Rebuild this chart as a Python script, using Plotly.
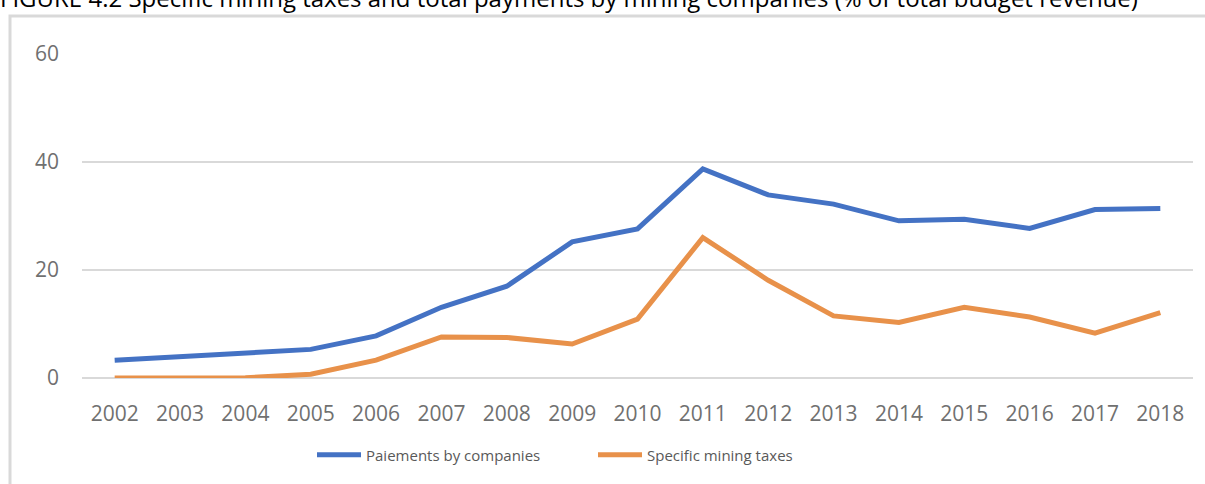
import plotly.graph_objects as go

# Years and the two series (% of total budget revenue)
years = [str(y) for y in range(2002, 2019)]
payments_by_companies = [3.3, 3.9, 4.7, 5.3, 7.8, 13.1, 17.0, 25.2, 27.6, 38.7,
                         33.9, 32.2, 29.1, 29.4, 27.7, 31.2, 31.4]
specific_mining_taxes = [0.0, 0.0, 0.05, 0.7, 3.3, 7.6, 7.5, 6.3, 10.9, 26.0,
                         18.1, 11.5, 10.3, 13.1, 11.3, 8.3, 12.1]
y_ticks = [0, 20, 40, 60]

title_text = ("FIGURE 4.2 Specific mining taxes and total payments by mining companies "
              "(% of total budget revenue)")

W, H = 1205, 484
L, R, T, B = 82, 12, 54, 106
pw, ph = W - L - R, H - T - B


def px_x(px):
    return (px - L) / pw


def px_y(py):
    return (H - B - py) / ph


fig = go.Figure()
fig.add_trace(go.Scatter(
    x=years, y=payments_by_companies, mode="lines",
    name="Paiements by companies",
    line=dict(color="#4472C4", width=5),
))
fig.add_trace(go.Scatter(
    x=years, y=specific_mining_taxes, mode="lines",
    name="Specific mining taxes",
    line=dict(color="#E8914A", width=5),
))

tick_font = dict(family="Open Sans, Noto Sans, sans-serif", size=21, color="#707070")

fig.update_layout(
    width=W, height=H,
    margin=dict(l=L, r=R, t=T, b=B),
    paper_bgcolor="white", plot_bgcolor="white",
    showlegend=True,
    legend=dict(
        orientation="h",
        x=px_x(312), xanchor="left",
        y=px_y(455), yanchor="middle",
        font=dict(family="Open Sans, Noto Sans, sans-serif", size=15, color="#595959"),
        itemwidth=44,
        entrywidth=222, entrywidthmode="pixels",
        bgcolor="rgba(0,0,0,0)",
    ),
    xaxis=dict(
        type="category", range=[-0.5, 16.5],
        showgrid=False, showline=False, zeroline=False,
        ticks="", tickfont=tick_font, ticklabelstandoff=21,
        fixedrange=True,
    ),
    yaxis=dict(
        range=[0, 60], tickvals=y_ticks,
        showgrid=True, gridcolor="#d9d9d9", gridwidth=1.5,
        zeroline=True, zerolinecolor="#d9d9d9", zerolinewidth=1.5,
        showline=False, ticks="", tickfont=tick_font, ticklabelstandoff=22,
        fixedrange=True,
    ),
    shapes=[dict(
        type="rect", xref="paper", yref="paper",
        x0=px_x(10), x1=px_x(1220), y0=px_y(500), y1=px_y(16),
        line=dict(color="#d9d9d9", width=3), fillcolor="rgba(0,0,0,0)",
        layer="below",
    )],
    annotations=[dict(
        text=title_text, showarrow=False,
        xref="paper", yref="paper",
        x=px_x(-2), xanchor="left",
        y=px_y(-3), yanchor="middle",
        font=dict(family="Open Sans, Noto Sans, sans-serif", size=24, color="#000000"),
    )],
)

fig.write_html("out.html")
